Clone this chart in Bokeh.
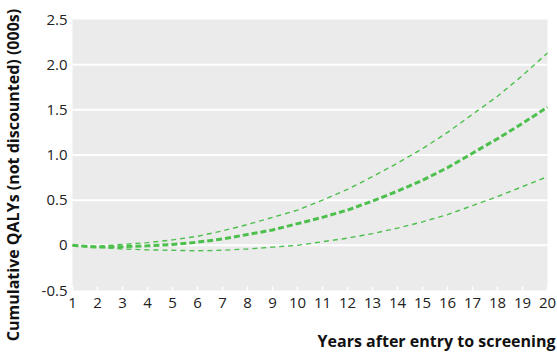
from bokeh.plotting import figure
from bokeh.models import Range1d
from bokeh.core.properties import value
from bokeh.embed import file_html
from bokeh.resources import INLINE
import math

# ---- data ----
years = list(range(1, 21))
mean_vals = [0, -0.02, -0.015, -0.005, 0.01, 0.035, 0.07, 0.12, 0.17, 0.24,
             0.31, 0.39, 0.49, 0.60, 0.72, 0.86, 1.02, 1.18, 1.35, 1.53]
upper_vals = [0, -0.01, 0.01, 0.03, 0.06, 0.10, 0.16, 0.23, 0.31, 0.39,
              0.50, 0.62, 0.76, 0.91, 1.07, 1.25, 1.45, 1.65, 1.88, 2.13]
lower_vals = [0, -0.02, -0.04, -0.05, -0.055, -0.06, -0.055, -0.04, -0.02, 0.0,
              0.04, 0.08, 0.13, 0.19, 0.26, 0.34, 0.44, 0.54, 0.65, 0.76]
y_ticks = [-0.5, 0, 0.5, 1.0, 1.5, 2.0, 2.5]
y_tick_labels = ["-0.5", "0", "0.5", "1.0", "1.5", "2.0", "2.5"]
x_tick_labels = [str(y) for y in years]
x_label = "Years after entry to screening"
y_label = "Cumulative QALYs (not discounted) (000s)"

# ---- layout (pixels) ----
W, H = 557, 352
left_px, right_px, top_px, bottom_px = 72, 547, 19, 290
green = "#4cbf4c"
font = value("Open Sans")

x_per_px = (years[-1] - years[0]) / (right_px - left_px)
y_per_px = (y_ticks[-1] - y_ticks[0]) / (bottom_px - top_px)
x_range = Range1d(years[0] - left_px * x_per_px, years[-1] + (W - right_px) * x_per_px)
y_range = Range1d(y_ticks[0] - (H - bottom_px) * y_per_px, y_ticks[-1] + top_px * y_per_px)

p = figure(width=W, height=H, output_backend="svg", toolbar_location=None,
           x_range=x_range, y_range=y_range,
           x_axis_location=None, y_axis_location=None,
           min_border=0, min_border_left=0, min_border_right=0,
           min_border_top=0, min_border_bottom=0)
p.outline_line_color = None
p.background_fill_color = "white"
p.border_fill_color = "white"
p.grid.visible = False

# plot panel background
p.quad(left=years[0], right=years[-1], bottom=y_ticks[0], top=y_ticks[-1],
       fill_color="#ebebeb", line_color=None)
# horizontal grid lines
inner = y_ticks[1:-1]
p.segment(x0=[years[0]] * len(inner), x1=[years[-1]] * len(inner), y0=inner, y1=inner,
          line_color="white", line_width=2)
# x tick marks (white, inside)
p.segment(x0=years, x1=years, y0=[y_ticks[0]] * len(years),
          y1=[y_ticks[0] + 4 * y_per_px] * len(years), line_color="white", line_width=1.5)

# series
p.line(years, upper_vals, line_color=green, line_width=1.4, line_dash="5 4")
p.line(years, lower_vals, line_color=green, line_width=1.4, line_dash="5 4")
p.line(years, mean_vals, line_color=green, line_width=3, line_dash="6 3")

# tick labels
p.text(x=years, y=[y_ticks[0]] * len(years), text=x_tick_labels, text_align="center",
       text_baseline="top", y_offset=7, text_font=font, text_font_size="15px",
       text_color="#222222")
p.text(x=[years[0]] * len(y_ticks), y=y_ticks, text=y_tick_labels, text_align="right",
       text_baseline="middle", x_offset=-5, text_font=font, text_font_size="15px",
       text_color="#222222")

# axis titles
p.text(x=[years[-1]], y=[y_ticks[0]], text=[x_label], text_align="right",
       text_baseline="middle", x_offset=8, y_offset=50, text_font=font,
       text_font_style="bold", text_font_size="16px", text_color="#111111")
p.text(x=[years[0]], y=[(y_ticks[0] + y_ticks[-1]) / 2], text=[y_label], angle=math.pi / 2,
       text_align="center", text_baseline="middle", x_offset=-60, y_offset=20,
       text_font=font, text_font_style="bold", text_font_size="16px", text_color="#111111")

open("out.html", "w").write(file_html(p, INLINE))
